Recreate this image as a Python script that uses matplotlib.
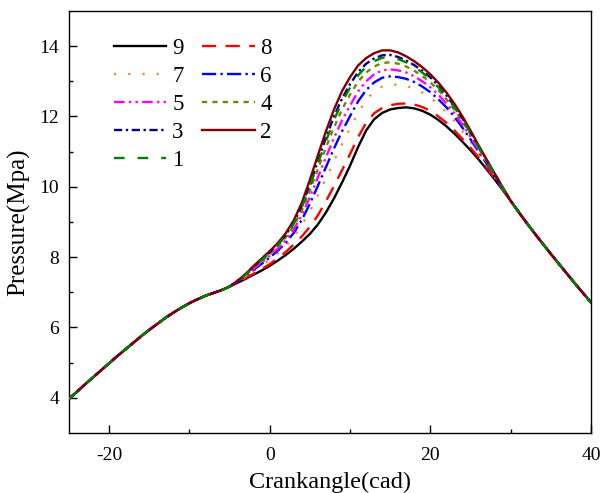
import numpy as np
import matplotlib
matplotlib.use('Agg')
import matplotlib.pyplot as plt

plt.rcParams['font.family'] = ['Liberation Serif', 'DejaVu Serif']
plt.rcParams['axes.unicode_minus'] = False

# ---- data ----
# shared compression trunk and shared expansion tail
x_left = list(range(-25, -4))
p_left = [3.97, 4.17, 4.38, 4.58, 4.78, 4.98, 5.18, 5.37, 5.56, 5.75, 5.93,
          6.10, 6.27, 6.42, 6.56, 6.69, 6.80, 6.90, 6.98, 7.06, 7.16]
x_right = list(range(30, 41))
p_right = [9.60, 9.28, 8.97, 8.67, 8.38, 8.09, 7.81, 7.53, 7.25, 6.98, 6.71]

# combustion region (-4 ... 29 cad), one list per case
x_mid = list(range(-4, 30))
p9 = [7.27, 7.38, 7.50, 7.62, 7.75, 7.90, 8.06, 8.24, 8.44, 8.66, 8.93, 9.27,
      9.67, 10.12, 10.60, 11.13, 11.60, 11.92, 12.10, 12.20, 12.24, 12.26,
      12.23, 12.16, 12.05, 11.90, 11.72, 11.51, 11.28, 11.04, 10.78, 10.50,
      10.21, 9.91]
p8 = [7.28, 7.40, 7.53, 7.66, 7.80, 7.97, 8.15, 8.36, 8.59, 8.86, 9.19, 9.59,
      10.02, 10.47, 10.93, 11.41, 11.82, 12.09, 12.24, 12.32, 12.36, 12.37,
      12.34, 12.27, 12.16, 12.00, 11.82, 11.60, 11.36, 11.11, 10.84, 10.55,
      10.24, 9.93]
p7 = [7.30, 7.44, 7.61, 7.76, 7.93, 8.11, 8.32, 8.58, 8.91, 9.31, 9.76, 10.24,
      10.73, 11.21, 11.66, 12.10, 12.47, 12.71, 12.85, 12.91, 12.90, 12.87,
      12.79, 12.68, 12.53, 12.35, 12.12, 11.87, 11.58, 11.28, 10.95, 10.62,
      10.28, 9.94]
p6 = [7.30, 7.46, 7.64, 7.81, 7.99, 8.18, 8.41, 8.69, 9.06, 9.52, 10.03, 10.56,
      11.09, 11.58, 12.01, 12.43, 12.75, 12.97, 13.10, 13.14, 13.12, 13.07,
      12.98, 12.85, 12.69, 12.49, 12.26, 11.99, 11.68, 11.35, 11.00, 10.66,
      10.31, 9.95]
p5 = [7.31, 7.48, 7.67, 7.85, 8.04, 8.24, 8.48, 8.79, 9.19, 9.71, 10.27, 10.84,
      11.39, 11.89, 12.31, 12.71, 13.00, 13.20, 13.31, 13.34, 13.31, 13.25,
      13.14, 13.00, 12.83, 12.62, 12.37, 12.09, 11.77, 11.42, 11.05, 10.69,
      10.33, 9.96]
p4 = [7.32, 7.49, 7.70, 7.89, 8.09, 8.30, 8.56, 8.89, 9.33, 9.89, 10.51, 11.12,
      11.69, 12.20, 12.62, 12.99, 13.25, 13.42, 13.52, 13.54, 13.50, 13.42,
      13.30, 13.15, 12.97, 12.75, 12.49, 12.19, 11.86, 11.49, 11.10, 10.72,
      10.35, 9.97]
p3 = [7.33, 7.51, 7.73, 7.93, 8.14, 8.36, 8.63, 8.99, 9.46, 10.08, 10.74, 11.40,
      12.00, 12.51, 12.92, 13.26, 13.50, 13.65, 13.74, 13.75, 13.69, 13.59,
      13.46, 13.30, 13.11, 12.88, 12.60, 12.29, 11.94, 11.56, 11.15, 10.76,
      10.37, 9.98]
p2 = [7.33, 7.52, 7.75, 7.96, 8.17, 8.40, 8.68, 9.05, 9.55, 10.20, 10.90, 11.58,
      12.20, 12.72, 13.12, 13.45, 13.66, 13.80, 13.88, 13.88, 13.82, 13.71,
      13.57, 13.40, 13.20, 12.96, 12.68, 12.36, 12.00, 11.60, 11.18, 10.78,
      10.38, 9.99]
p1 = [7.32, 7.50, 7.72, 7.92, 8.12, 8.34, 8.61, 8.95, 9.42, 10.02, 10.66, 11.30,
      11.90, 12.41, 12.82, 13.17, 13.41, 13.57, 13.67, 13.68, 13.63, 13.54,
      13.41, 13.25, 13.06, 12.83, 12.56, 12.26, 11.91, 11.53, 11.13, 10.75,
      10.36, 9.98]

labels = ['9', '8', '7', '6', '5', '4', '3', '2', '1']
series = [p9, p8, p7, p6, p5, p4, p3, p2, p1]
colors = ['black', '#ff0000', '#f28e3c', '#0000ff', '#ff00ff', '#808000',
          '#000080', '#800000', '#008000']
styles = ['-', (0, (6, 4)), (0, (1, 5)), (0, (6, 1.8, 1, 1.8)),
          (0, (4.5, 1.8, 1, 1.8, 1, 1.8)), (0, (2.2, 2.2)), (0, (3.5, 1.5, 1, 1.5)),
          '-', (0, (4.5, 5.5))]

x_all = np.array(x_left + x_mid + x_right)

fig = plt.figure(figsize=(6.01, 4.93), dpi=100)
ax = fig.add_axes([0.1148, 0.122, 0.8685, 0.8557])

lines = {}
for lab, p, c, ls in zip(labels, series, colors, styles):
    y_all = np.array(p_left + p + p_right)
    ln, = ax.plot(x_all, y_all, color=c, linestyle=ls, lw=1.7,
                  label=lab, zorder=3, solid_joinstyle='round')
    lines[lab] = ln

ax.set_xlim(-25, 40)
ax.set_ylim(3, 15)
ax.set_xticks([-20, 0, 20, 40])
ax.set_xticks([-10, 10, 30], minor=True)
ax.set_yticks([4, 6, 8, 10, 12, 14])
ax.set_yticks([5, 7, 9, 11, 13], minor=True)
ax.tick_params(which='both', direction='in', top=False, right=False,
               width=1.0, labelsize=14)
ax.tick_params(which='major', length=6)
ax.tick_params(which='minor', length=3)
ax.tick_params(axis='x', pad=10)
ax.tick_params(axis='y', pad=7)
for s in ax.spines.values():
    s.set_linewidth(1.0)

ax.set_xlabel('Crankangle(cad)', fontsize=17.5, labelpad=6)
ax.set_ylabel('Pressure(Mpa)', fontsize=18, labelpad=7)

order = ['9', '7', '5', '3', '1', '8', '6', '4', '2']
ax.legend([lines[k] for k in order], order, loc='upper left',
          bbox_to_anchor=(0.055, 0.973), ncol=2, frameon=False, fontsize=16.5,
          handlelength=2.3, handletextpad=0.25, columnspacing=0.8,
          labelspacing=0.3, borderaxespad=0.3)

fig.savefig('out.png', dpi=100)
